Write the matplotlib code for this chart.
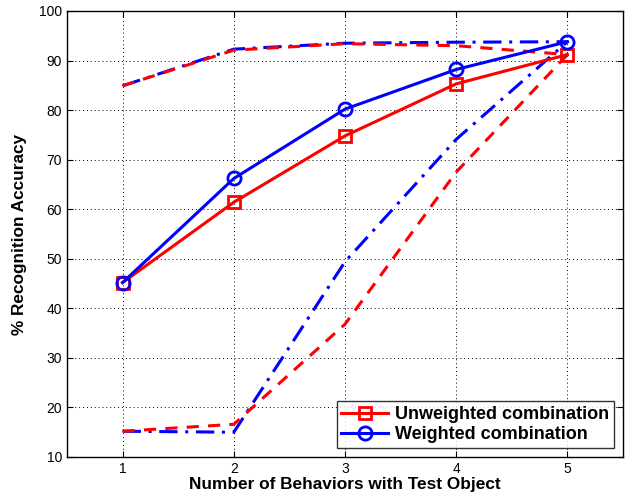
import matplotlib
matplotlib.use("Agg")
import matplotlib.pyplot as plt

x = [1, 2, 3, 4, 5]
unweighted = [45.2, 61.4, 74.8, 85.3, 91.2]
weighted = [45.2, 66.2, 80.2, 88.2, 93.8]
unweighted_upper = [84.9, 92.1, 93.4, 93.0, 91.2]
weighted_upper = [84.9, 92.3, 93.5, 93.7, 93.8]
unweighted_lower = [15.2, 16.6, 36.8, 67.5, 91.2]
weighted_lower = [15.2, 15.0, 49.4, 74.1, 93.8]
xticks = [1, 2, 3, 4, 5]
yticks = [10, 20, 30, 40, 50, 60, 70, 80, 90, 100]

plt.rcParams['font.family'] = ['Liberation Sans', 'DejaVu Sans']
fig = plt.figure(figsize=(6.29, 5.0), dpi=100)
ax = fig.add_axes([0.1065, 0.086, 0.884, 0.892])

red = '#ff0000'
blue = '#0000ff'
lw = 2.2

ax.plot(x, weighted_upper, color=blue, lw=lw, linestyle=(0, (6, 2.5, 1, 2.5)))
ax.plot(x, unweighted_upper, color=red, lw=lw, linestyle=(0, (4, 3)))
ax.plot(x, weighted_lower, color=blue, lw=lw, linestyle=(0, (6, 2.5, 1, 2.5)))
ax.plot(x, unweighted_lower, color=red, lw=lw, linestyle=(0, (4, 3)))
ax.plot(x, unweighted, color=red, lw=lw, marker='s', markersize=8.5,
        markerfacecolor='none', markeredgewidth=2, label='Unweighted combination')
ax.plot(x, weighted, color=blue, lw=lw, marker='o', markersize=9.5,
        markerfacecolor='none', markeredgewidth=2, label='Weighted combination')

ax.set_xlim(0.5, 5.5)
ax.set_ylim(10, 100)
ax.set_xticks(xticks)
ax.set_yticks(yticks)
ax.tick_params(direction='in', top=True, right=True, labelsize=10, length=4)
ax.grid(True, linestyle=(0, (1, 3)), color='black', linewidth=0.7)
for s in ax.spines.values():
    s.set_linewidth(1.0)

ax.set_xlabel('Number of Behaviors with Test Object', fontsize=12.4, fontweight='bold', labelpad=1)
ax.set_ylabel('% Recognition Accuracy', fontsize=12.4, fontweight='bold', labelpad=9)

leg = ax.legend(loc='lower right', prop={'weight': 'bold', 'size': 13},
                frameon=True, fancybox=False, edgecolor='black',
                borderpad=0.25, labelspacing=0.2, handlelength=2.6,
                handletextpad=0.4, borderaxespad=0.5)
leg.get_frame().set_linewidth(1.0)

fig.savefig('out.png', dpi=100)
